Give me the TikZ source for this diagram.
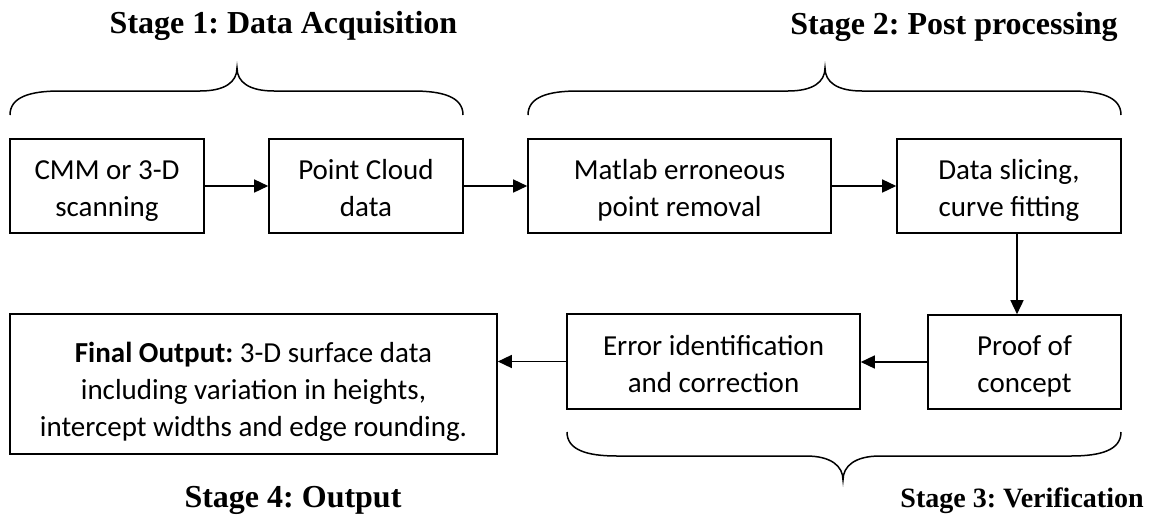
\documentclass[tikz,border=0pt]{standalone}
\usepackage{fontspec}
\setmainfont{Liberation Serif}
\newfontfamily\boxfont{Carlito}
\usetikzlibrary{arrows.meta,calc}
\frenchspacing
\newcommand\tstrut{\rule{0pt}{30pt}}
\newcommand\ftstrut{\rule{0pt}{36pt}}
\newcommand\bstrut{\rule[-6pt]{0pt}{6pt}}
\begin{document}
\begin{tikzpicture}[x=1pt,y=-1pt,
  flowbox/.style={draw,line width=1.6pt,inner sep=0pt,align=center,
    font=\boxfont\fontsize{29}{37}\selectfont},
  conn/.style={line width=1.5pt,-{Triangle[length=14pt,width=13pt]}},
  bracestyle/.style={line width=1.5pt},
  stage/.style={font=\bfseries\fontsize{32}{38}\selectfont,anchor=base,inner sep=0pt}]
\useasboundingbox (0,0) rectangle (1151,525);

% stage labels
\node[stage] (s1) at (283.5,33) {Stage 1: Data Acquisition};
\node[stage] (s2) at (954,34) {Stage 2: Post processing};
\node[stage,font=\bfseries\fontsize{28}{34}\selectfont] (s3) at (1022,507) {Stage 3: Verification};
\node[stage] (s4) at (293,507) {Stage 4: Output};

% boxes
\node[flowbox,minimum width=194pt,minimum height=94pt] (scan) at (107,186) {\tstrut CMM or 3-D\\scanning\bstrut};
\node[flowbox,minimum width=194pt,minimum height=94pt] (cloud) at (366,186) {\tstrut Point Cloud\\data\bstrut};
\node[flowbox,minimum width=303pt,minimum height=94pt] (matlab) at (679.5,186) {\tstrut Matlab erroneous\\point removal\bstrut};
\node[flowbox,minimum width=224pt,minimum height=94pt] (slice) at (1009,186) {\tstrut Data slicing,\\curve fitting\bstrut};
\node[flowbox,minimum width=193pt,minimum height=94pt] (proof) at (1024.5,362) {\tstrut Proof of\\concept\bstrut};
\node[flowbox,minimum width=293pt,minimum height=95pt] (error) at (713.5,361.5) {\tstrut Error identification\\and correction\bstrut};
\node[flowbox,minimum width=487pt,minimum height=140pt] (final) at (253.5,384) {\ftstrut\textbf{Final Output:} 3-D surface data\\including variation in heights,\\intercept widths and edge rounding.\bstrut};

% connectors
\draw[conn] (scan) -- (cloud);
\draw[conn] (cloud) -- (matlab);
\draw[conn] (matlab) -- (slice);
\coordinate (vx) at (1017,0);
\draw[conn] (slice.south -| vx) -- (proof.north -| vx);
\draw[conn] (proof.west) -- (proof.west -| error.east);
\draw[conn] (error.west) -- (error.west -| final.east);

% braces
\draw[bracestyle] (10,115) .. controls (10,97) and (30,91) .. (60,91) -- (200,91)
  .. controls (225,91) and (237,82) .. (237,68)
  .. controls (237,82) and (249,91) .. (274,91) -- (413,91)
  .. controls (443,91) and (463,97) .. (463,115);
\draw[bracestyle] (528,115) .. controls (528,97) and (548,91) .. (578,91) -- (788,91)
  .. controls (813,91) and (825,82) .. (825,68)
  .. controls (825,82) and (837,91) .. (862,91) -- (1071,91)
  .. controls (1101,91) and (1121,97) .. (1121,115);
\draw[bracestyle] (567,432) .. controls (567,450) and (587,456) .. (617,456) -- (806,456)
  .. controls (831,456) and (843,466) .. (843,480)
  .. controls (843,466) and (855,456) .. (880,456) -- (1071,456)
  .. controls (1101,456) and (1121,450) .. (1121,432);
\end{tikzpicture}
\end{document}
